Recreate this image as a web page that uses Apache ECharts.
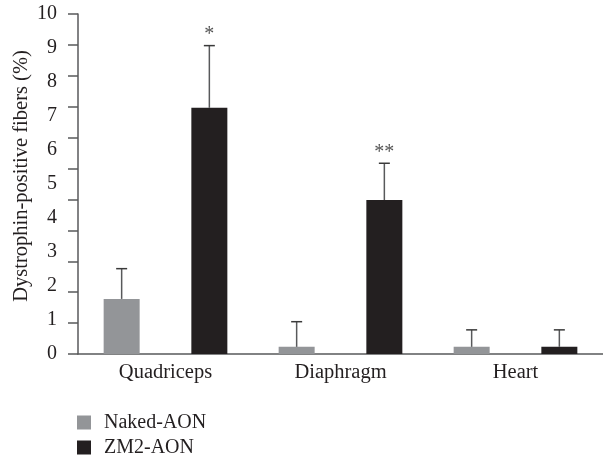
<!DOCTYPE html>
<html>
<head>
<meta charset="utf-8">
<script src="https://cdn.jsdelivr.net/npm/echarts@6/dist/echarts.min.js"></script>
<style>
html,body{margin:0;padding:0;background:#fff;}
#c{width:603px;height:458px;}
</style>
</head>
<body>
<div id="c"></div>
<script>
const categories = ['Quadriceps', 'Diaphragm', 'Heart'];
const seriesNames = ['Naked-AON', 'ZM2-AON'];
const nakedValues = [1.62, 0.21, 0.21];
const nakedErrTop = [2.51, 0.95, 0.71];
const zm2Values = [7.24, 4.53, 0.21];
const zm2ErrTop = [9.07, 5.61, 0.71];
const zm2Marks = ['*', '**', ''];
const yTickLabels = [0, 1, 2, 3, 4, 5, 6, 7, 8, 9, 10];
const yTitle = 'Dystrophin-positive fibers (%)';

const FONT = 'Liberation Serif';
const BAR_W = 36;
const BAR_GAP = 51.7;
const OFFSET = (BAR_W + BAR_GAP) / 2;

const errData = [];
const marks = [];
categories.forEach((c, i) => {
  errData.push([i, nakedValues[i], nakedErrTop[i], -1]);
  marks.push('');
  errData.push([i, zm2Values[i], zm2ErrTop[i], 1]);
  marks.push(zm2Marks[i]);
});

const legendBase = {
  orient: 'vertical', left: 77, padding: 0,
  itemWidth: 14, itemHeight: 14,
  icon: 'rect',
  textStyle: {fontFamily: FONT, fontSize: 20, color: '#231f20', padding: [0, 0, 0, 8]}
};

const chart = echarts.init(document.getElementById('c'), null, {renderer: 'canvas'});
chart.setOption({
  animation: false,
  backgroundColor: '#fff',
  grid: {left: 78, top: 14, width: 529.5, height: 340},
  legend: seriesNames.map((n, i) => Object.assign({}, legendBase, {data: [n], top: 412.5 + i * 25})),
  graphic: [{
    type: 'text', x: 22, y: 176, rotation: Math.PI / 2,
    style: {text: yTitle, textAlign: 'center', textVerticalAlign: 'middle',
      font: '20.5px "' + FONT + '"', fill: '#231f20'}
  }],
  xAxis: {
    type: 'category', data: categories,
    axisLine: {lineStyle: {color: '#58595b', width: 1.5}},
    axisTick: {show: false},
    axisLabel: {fontFamily: FONT, fontSize: 20.5, color: '#231f20', margin: 8}
  },
  yAxis: [
    {
      type: 'value', min: 0, max: 10, interval: 1, position: 'left',
      axisLine: {show: true, lineStyle: {color: '#58595b', width: 1.5}},
      axisTick: {show: false},
      splitLine: {show: false},
      axisLabel: {fontFamily: FONT, fontSize: 20, color: '#231f20', margin: 21,
        formatter: v => yTickLabels.includes(v) ? String(v) : ''}
    },
    {
      type: 'value', min: 0, max: 11, interval: 1, position: 'left', offset: 0,
      axisLine: {show: false},
      axisTick: {show: true, length: 10, lineStyle: {color: '#58595b', width: 1.5}},
      splitLine: {show: false},
      axisLabel: {show: false}
    }
  ],
  series: [
    {
      name: seriesNames[0], type: 'bar', data: nakedValues, yAxisIndex: 0,
      barWidth: BAR_W, barGap: (BAR_GAP / BAR_W * 100) + '%',
      itemStyle: {color: '#939598'}
    },
    {
      name: seriesNames[1], type: 'bar', data: zm2Values, yAxisIndex: 0,
      barWidth: BAR_W,
      itemStyle: {color: '#231f20'}
    },
    {
      type: 'custom', yAxisIndex: 0, data: errData, z: 5,
      renderItem: function (params, api) {
        const lo = api.coord([api.value(0), api.value(1)]);
        const hi = api.coord([api.value(0), api.value(2)]);
        const x = lo[0] + api.value(3) * OFFSET;
        const children = [
          {type: 'line', shape: {x1: x, y1: lo[1], x2: x, y2: hi[1]},
            style: {stroke: '#58595b', lineWidth: 1.5}},
          {type: 'line', shape: {x1: x - 5.5, y1: hi[1], x2: x + 5.5, y2: hi[1]},
            style: {stroke: '#3a3a3a', lineWidth: 1.5}}
        ];
        const m = marks[params.dataIndex];
        if (m) {
          children.push({type: 'text', style: {
            text: m, x: x, y: hi[1] - 1,
            textAlign: 'center', textVerticalAlign: 'bottom',
            font: '20px "' + FONT + '"', fill: '#555', letterSpacing: 3
          }});
        }
        return {type: 'group', children: children};
      }
    }
  ]
});
</script>
</body>
</html>
